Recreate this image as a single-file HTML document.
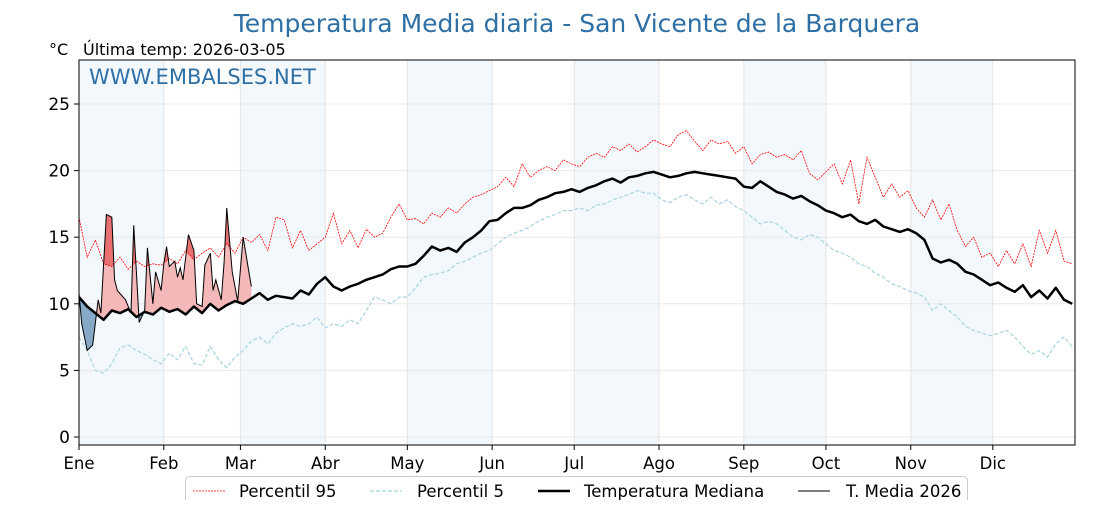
<!DOCTYPE html>
<html><head><meta charset="utf-8"><style>
body{margin:0;background:#fff;}
svg text{font-family:"DejaVu Sans","Liberation Sans",sans-serif;}
</style></head><body>
<svg id="chart" width="1120" height="500" xmlns="http://www.w3.org/2000/svg">
<defs id="defs"></defs>
<text x="577" y="32" font-size="25" fill="#2e6fa5" text-anchor="middle">Temperatura Media diaria - San Vicente de la Barquera</text>
<text x="49" y="55" font-size="16" fill="#000">°C</text>
<text x="83" y="55" font-size="16" fill="#000">Última temp: 2026-03-05</text>
<g id="bg"></g><g id="grid"></g><g id="marks"></g><g id="axes"></g>
<text x="89" y="84" font-size="21" fill="#2e6fa5">WWW.EMBALSES.NET</text>
<g>
<rect x="185.5" y="476.5" width="782" height="30" rx="4" fill="#fff" stroke="#ccc"/>
<line x1="193" y1="491" x2="225" y2="491" stroke="red" stroke-width="0.8" stroke-dasharray="2,1"/>
<text x="239" y="497" font-size="16.5">Percentil 95</text>
<line x1="370" y1="491" x2="402" y2="491" stroke="#a8d4e0" stroke-width="1.2" stroke-dasharray="4,2"/>
<text x="417" y="497" font-size="16.5">Percentil 5</text>
<line x1="538" y1="491" x2="570" y2="491" stroke="#000" stroke-width="2.5"/>
<text x="584" y="497" font-size="16.5">Temperatura Mediana</text>
<line x1="798" y1="491" x2="830" y2="491" stroke="#000" stroke-width="1"/>
<text x="846" y="497" font-size="16.5">T. Media 2026</text>
</g>
</svg>
<script>
const monthLabels=["Ene","Feb","Mar","Abr","May","Jun","Jul","Ago","Sep","Oct","Nov","Dic"];
const monthStarts=[0,31,59,90,120,151,181,212,243,273,304,334];
const yTicks=[0,5,10,15,20,25];
const step=3;
const median=[10.5,9.8,9.3,8.8,9.5,9.3,9.6,9.0,9.4,9.2,
9.7,9.4,9.6,9.2,9.8,9.3,10.0,9.5,9.9,10.2,
10.0,10.4,10.8,10.3,10.6,10.5,10.4,11.0,10.7,11.5,
12.0,11.3,11.0,11.3,11.5,11.8,12.0,12.2,12.6,12.8,
12.8,13.0,13.6,14.3,14.0,14.2,13.9,14.6,15.0,15.5,
16.2,16.3,16.8,17.2,17.2,17.4,17.8,18.0,18.3,18.4,
18.6,18.4,18.7,18.9,19.2,19.4,19.1,19.5,19.6,19.8,
19.9,19.7,19.5,19.6,19.8,19.9,19.8,19.7,19.6,19.5,
19.4,18.8,18.7,19.2,18.8,18.4,18.2,17.9,18.1,17.7,
17.4,17.0,16.8,16.5,16.7,16.2,16.0,16.3,15.8,15.6,
15.4,15.6,15.3,14.8,13.4,13.1,13.3,13.0,12.4,12.2,
11.8,11.4,11.6,11.2,10.9,11.4,10.5,11.0,10.4,11.2,
10.3,10.0];
const p95=[16.5,13.5,14.8,13.0,12.8,13.5,12.6,13.2,12.8,13.0,
12.9,13.4,13.0,14.0,13.3,13.8,14.2,13.5,14.5,13.8,
15.0,14.6,15.2,14.0,16.5,16.3,14.2,15.5,14.0,14.5,
15.0,16.8,14.5,15.5,14.2,15.6,15.0,15.3,16.5,17.5,
16.3,16.4,16.0,16.8,16.5,17.2,16.8,17.5,18.0,18.2,
18.5,18.8,19.5,18.8,20.5,19.5,20.0,20.3,20.0,20.8,
20.5,20.3,21.0,21.3,21.0,21.8,21.5,22.0,21.4,21.8,
22.3,22.0,21.8,22.7,23.0,22.2,21.5,22.3,22.0,22.2,
21.3,21.8,20.5,21.2,21.4,21.0,21.2,20.8,21.5,19.8,
19.3,19.9,20.5,19.0,20.8,17.5,21.0,19.5,18.0,19.0,
18.0,18.5,17.2,16.5,17.8,16.3,17.5,15.5,14.3,15.0,
13.5,13.8,12.8,14.0,13.0,14.5,12.8,15.5,13.8,15.5,
13.2,13.0];
const p5=[7.5,6.5,5.0,4.8,5.5,6.7,6.9,6.5,6.2,5.8,
5.5,6.3,5.8,6.8,5.5,5.4,6.8,5.8,5.2,6.0,
6.5,7.2,7.5,7.0,7.8,8.2,8.5,8.3,8.5,9.0,
8.2,8.5,8.3,8.8,8.5,9.5,10.5,10.3,10.0,10.5,
10.5,11.2,12.0,12.2,12.3,12.5,13.0,13.2,13.5,13.8,
14.0,14.5,15.0,15.3,15.5,15.8,16.2,16.5,16.7,17.0,
17.0,17.2,17.0,17.4,17.5,17.8,18.0,18.2,18.5,18.3,
18.3,17.8,17.6,18.0,18.2,17.8,17.5,18.0,17.5,17.8,
17.3,17.0,16.5,16.0,16.2,16.0,15.5,15.0,14.8,15.2,
15.0,14.5,14.0,13.8,13.5,13.0,12.8,12.3,12.0,11.5,
11.3,11.0,10.8,10.5,9.5,10.0,9.5,9.0,8.3,8.0,
7.8,7.6,7.8,8.0,7.5,6.8,6.2,6.5,6.0,7.0,
7.5,6.8];
const days2026=[0,1,3,5,7,8,10,12,13,14,17,19,20,21,22,24,25,27,28,30,31,32,33,35,36,37,38,40,42,43,45,46,48,49,50,52,53,54,56,58,60,62,63];
const t2026=[10.8,8.5,6.5,6.9,10.3,9.3,16.7,16.5,11.8,11.0,10.3,9.3,15.9,12.3,8.6,9.5,14.2,10.0,12.4,11.0,13.0,14.3,12.8,13.2,12.0,12.7,11.8,15.2,14.0,10.0,9.8,12.9,13.8,11.0,11.8,10.3,13.0,17.2,12.4,10.2,15.0,12.5,11.3];

const NS="http://www.w3.org/2000/svg";
const X0=79,X1=1075,Y0=60,Y1=445;
const xs=d=>X0+d*2.736;
const ys=v=>437-13.32*v;
function mk(tag,attrs,parent){const e=document.createElementNS(NS,tag);for(const k in attrs)e.setAttribute(k,attrs[k]);parent.appendChild(e);return e;}
const bg=document.getElementById('bg'),grid=document.getElementById('grid'),marks=document.getElementById('marks'),axes=document.getElementById('axes'),defs=document.getElementById('defs');
mk('rect',{x:X0,y:Y0,width:X1-X0,height:Y1-Y0,fill:'#fff'},bg);
const clipR=mk('clipPath',{id:'plotClip'},defs);mk('rect',{x:X0,y:Y0,width:X1-X0,height:Y1-Y0},clipR);
marks.setAttribute('clip-path','url(#plotClip)');
monthStarts.forEach((m,i)=>{
  if(i%2===0){const end=i+1<monthStarts.length?monthStarts[i+1]:366;
    const r=mk('rect',{x:xs(m),y:Y0,width:Math.min(xs(end),X1)-xs(m),height:Y1-Y0,fill:'#f3f8fc'},bg);
    
    }
  const g=mk('line',{x1:xs(m),x2:xs(m),y1:Y0,y2:Y1,stroke:'#e4e4e4','stroke-width':1},grid);
  
  
  const t=mk('text',{x:xs(m),y:469,'font-size':16.5,'text-anchor':'middle'},axes);t.textContent=monthLabels[i];
  
  
  mk('line',{x1:xs(m),x2:xs(m),y1:Y1,y2:Y1+5,stroke:'#000'},axes);
});
yTicks.forEach(v=>{
  const g=mk('line',{x1:X0,x2:X1,y1:ys(v),y2:ys(v),stroke:'#e8e8e8','stroke-width':1},grid);
  
  
  mk('line',{x1:X0-5,x2:X0,y1:ys(v),y2:ys(v),stroke:'#000'},axes);
  const t=mk('text',{x:X0-9,y:ys(v)+6,'font-size':17,'text-anchor':'end'},axes);t.textContent=v;
  
  
});
mk('rect',{x:X0,y:Y0,width:X1-X0,height:Y1-Y0,fill:'none',stroke:'#000','stroke-width':1},axes);
const pts=arr=>arr.map((v,i)=>xs(i*step).toFixed(1)+','+ys(v).toFixed(1)).join(' ');
function interp(arr,d){const i=Math.min(Math.floor(d/step),arr.length-2);const f=(d-i*step)/step;return arr[i]+(arr[i+1]-arr[i])*f;}
const medTop='M'+X0+','+Y0+' L'+median.map((v,i)=>xs(i*step)+','+ys(v)).join(' L')+' L'+X1+','+Y0+'Z';
const medBot='M'+X0+','+Y1+' L'+median.map((v,i)=>xs(i*step)+','+ys(v)).join(' L')+' L'+X1+','+Y1+'Z';
const p95Top='M'+X0+','+Y0+' L'+p95.map((v,i)=>xs(i*step)+','+ys(v)).join(' L')+' L'+X1+','+Y0+'Z';
[['cAbove',medTop],['cBelow',medBot],['cP95',p95Top]].forEach(([id,d])=>{const c=mk('clipPath',{id:id},defs);mk('path',{d:d},c);});
const lo=days2026[0],hi=days2026[days2026.length-1];
let area='M'+days2026.map((d,i)=>xs(d)+','+ys(t2026[i])).join(' L');
for(let d=hi;d>=lo;d-=1)area+=' L'+xs(d)+','+ys(interp(median,d));
area+='Z';
const a1=mk('path',{d:area,fill:'#f4b8b8','clip-path':'url(#cAbove)'},marks);


const a3=mk('path',{d:area,fill:'#e87070','clip-path':'url(#cP95)'},marks);


const a2=mk('path',{d:area,fill:'#86a9c8','clip-path':'url(#cBelow)'},marks);


const l1=mk('polyline',{points:pts(p95),fill:'none',stroke:'red','stroke-width':0.8,'stroke-dasharray':'2,1'},marks);


const l2=mk('polyline',{points:pts(p5),fill:'none',stroke:'#a8d4e0','stroke-width':1.2,'stroke-dasharray':'4,2'},marks);


const l3=mk('polyline',{points:pts(median),fill:'none',stroke:'#000','stroke-width':2.5,'stroke-linejoin':'round'},marks);


const l4=mk('polyline',{points:days2026.map((d,i)=>xs(d)+','+ys(t2026[i])).join(' '),fill:'none',stroke:'#000','stroke-width':1},marks);


</script>
</body></html>
